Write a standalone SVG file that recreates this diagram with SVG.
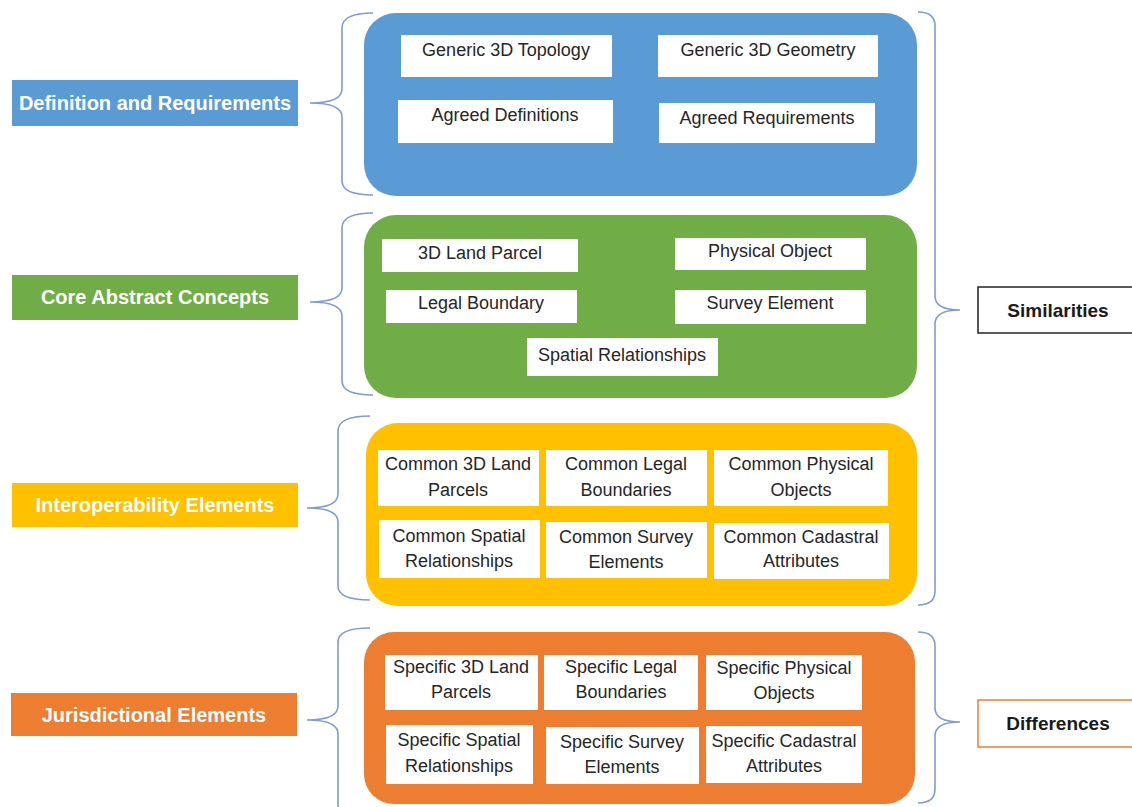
<svg xmlns="http://www.w3.org/2000/svg" width="1132" height="807" viewBox="0 0 1132 807">
<style>
.lbl{font-family:"Liberation Sans",Arial,sans-serif;font-weight:bold;font-size:20px;fill:#fff;text-anchor:middle}
.in{font-family:"Liberation Sans",Arial,sans-serif;font-size:18px;fill:#262626;text-anchor:middle}
.side{font-family:"Liberation Sans",Arial,sans-serif;font-weight:bold;font-size:19px;fill:#1a1a1a;text-anchor:middle}
.wb{fill:#fff}
.br{fill:none;stroke:#7f9bd3;stroke-width:1.6}
</style>
<rect width="1132" height="807" fill="#fff"/>
<g id="connectors">
<path class="br" d="M373,13 Q342,13 342,28 L342,89 Q342,103 310,103 Q342,103 342,117 L342,181 Q342,195 373,195"/>
<path class="br" d="M373,213 Q342,213 342,228 L342,288 Q342,302 310,302 Q342,302 342,316 L342,381 Q342,395 373,395"/>
<path class="br" d="M370,416 Q338,416 338,431 L338,494 Q338,508 307,508 Q338,508 338,522 L338,586 Q338,600 370,600"/>
<path class="br" d="M370,628 Q338,628 338,642 L338,706 Q338,720 307,720 Q338,720 338,734 L338,807"/>
<path class="br" d="M918,12 Q935,12 935,26 L935,296 Q935,310 960,310 Q935,310 935,324 L935,591 Q935,605 918,605"/>
<path class="br" d="M918,632 Q935,632 935,646 L935,708 Q935,722 960,722 Q935,722 935,736 L935,789 Q935,803 918,803"/>
</g>
<g id="lbl-def"><rect x="12" y="80" width="286" height="46" fill="#5b9bd5"/><text class="lbl" x="155" y="110">Definition and Requirements</text></g>
<g id="lbl-core"><rect x="12" y="275" width="286" height="45" fill="#70ad47"/><text class="lbl" x="155" y="304">Core Abstract Concepts</text></g>
<g id="lbl-inter"><rect x="12" y="483" width="286" height="44" fill="#ffc000"/><text class="lbl" x="155" y="512">Interoperability Elements</text></g>
<g id="lbl-jur"><rect x="11" y="693" width="286" height="43" fill="#ed7d31"/><text class="lbl" x="154" y="722">Jurisdictional Elements</text></g>
<g id="sim"><rect x="978" y="287" width="170" height="46" fill="#fff" stroke="#222" stroke-width="1.5"/><text class="side" x="1058" y="317">Similarities</text></g>
<g id="diff"><rect x="978" y="700" width="170" height="47" fill="#fff" stroke="#ed7d31" stroke-width="1.5"/><text class="side" x="1058" y="730">Differences</text></g>
<g id="blue">
<rect x="364" y="13" width="553" height="183" rx="32" fill="#5b9bd5"/>
<rect class="wb" x="401" y="35" width="211" height="42"/><text class="in" x="506" y="56">Generic 3D Topology</text>
<rect class="wb" x="658" y="35" width="220" height="42"/><text class="in" x="768" y="56">Generic 3D Geometry</text>
<rect class="wb" x="398" y="100" width="215" height="43"/><text class="in" x="505" y="121">Agreed Definitions</text>
<rect class="wb" x="659" y="103" width="216" height="40"/><text class="in" x="767" y="124">Agreed Requirements</text>
</g>
<g id="green">
<rect x="364" y="215" width="553" height="183" rx="32" fill="#70ad47"/>
<rect class="wb" x="382" y="239" width="196" height="33"/><text class="in" x="480" y="259">3D Land Parcel</text>
<rect class="wb" x="675" y="238" width="191" height="32"/><text class="in" x="770" y="257">Physical Object</text>
<rect class="wb" x="386" y="290" width="191" height="33"/><text class="in" x="481" y="309">Legal Boundary</text>
<rect class="wb" x="675" y="290" width="191" height="34"/><text class="in" x="770" y="309">Survey Element</text>
<rect class="wb" x="527" y="338" width="191" height="38"/><text class="in" x="622" y="361">Spatial Relationships</text>
</g>
<g id="yellow">
<rect x="366" y="423" width="551" height="183" rx="32" fill="#ffc000"/>
<rect class="wb" x="378" y="450" width="161" height="56"/><text class="in" x="458" y="470">Common 3D Land</text><text class="in" x="458" y="496">Parcels</text>
<rect class="wb" x="546" y="450" width="161" height="56"/><text class="in" x="626" y="470">Common Legal</text><text class="in" x="626" y="496">Boundaries</text>
<rect class="wb" x="714" y="450" width="174" height="56"/><text class="in" x="801" y="470">Common Physical</text><text class="in" x="801" y="496">Objects</text>
<rect class="wb" x="379" y="520" width="161" height="58"/><text class="in" x="459" y="542">Common Spatial</text><text class="in" x="459" y="567">Relationships</text>
<rect class="wb" x="546" y="522" width="161" height="56"/><text class="in" x="626" y="543">Common Survey</text><text class="in" x="626" y="568">Elements</text>
<rect class="wb" x="714" y="523" width="175" height="56"/><text class="in" x="801" y="543">Common Cadastral</text><text class="in" x="801" y="567">Attributes</text>
</g>
<g id="orange">
<rect x="364" y="632" width="551" height="172" rx="30" fill="#ed7d31"/>
<rect class="wb" x="385" y="655" width="153" height="55"/><text class="in" x="461" y="673">Specific 3D Land</text><text class="in" x="461" y="698">Parcels</text>
<rect class="wb" x="544" y="655" width="154" height="55"/><text class="in" x="621" y="673">Specific Legal</text><text class="in" x="621" y="698">Boundaries</text>
<rect class="wb" x="706" y="655" width="156" height="55"/><text class="in" x="784" y="674">Specific Physical</text><text class="in" x="784" y="699">Objects</text>
<rect class="wb" x="386" y="725" width="147" height="59"/><text class="in" x="459" y="746">Specific Spatial</text><text class="in" x="459" y="772">Relationships</text>
<rect class="wb" x="546" y="727" width="153" height="57"/><text class="in" x="622" y="748">Specific Survey</text><text class="in" x="622" y="773">Elements</text>
<rect class="wb" x="706" y="726" width="156" height="57"/><text class="in" x="784" y="747">Specific Cadastral</text><text class="in" x="784" y="772">Attributes</text>
</g>
</svg>
